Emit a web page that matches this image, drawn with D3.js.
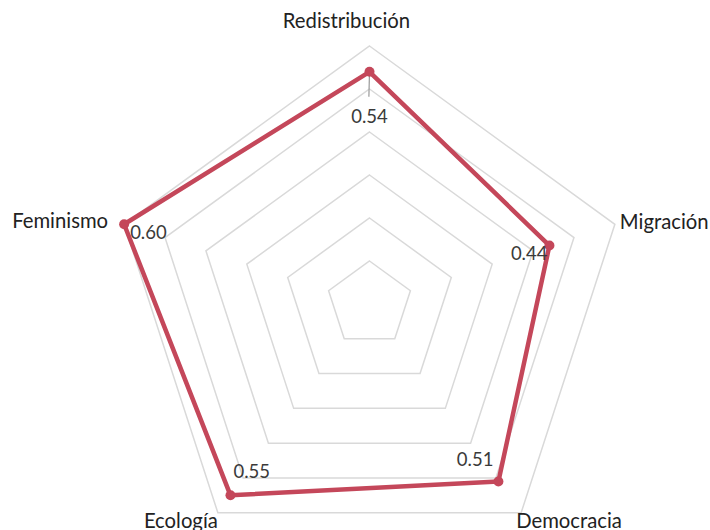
<!DOCTYPE html>
<html>
<head>
<meta charset="utf-8">
<script src="https://cdn.jsdelivr.net/npm/d3@7"></script>
<style>
  body { margin: 0; background: #fff; }
  text { font-family: Lato, "Noto Sans", sans-serif; }
</style>
</head>
<body>
<svg width="710" height="530"></svg>
<script>
// data
var axes = ["Redistribución", "Migración", "Democracia", "Ecología", "Feminismo"];
var values = [0.54, 0.44, 0.51, 0.55, 0.60];
var valueLabels = ["0.54", "0.44", "0.51", "0.55", "0.60"];
var gridLevels = [0.1, 0.2, 0.3, 0.4, 0.5, 0.6];

var svg = d3.select("svg"),
    cx = 369.5,
    cy = 304;

var r = d3.scaleLinear()
    .domain([0, 0.6])
    .range([0, 258]);

var angle = d3.scaleLinear()
    .domain([0, axes.length])
    .range([0, 2 * Math.PI]);

function pt(i, v) {
    var a = angle(i);
    return [cx + r(v) * Math.sin(a), cy - r(v) * Math.cos(a)];
}

// grid pentagons
svg.append("g")
    .selectAll("polygon")
    .data(gridLevels)
    .enter()
    .append("polygon")
    .attr("points", function(lv) {
        return axes.map(function(d, i) { return pt(i, lv).join(","); }).join(" ");
    })
    .attr("fill", "none")
    .attr("stroke", "#d9d9d9")
    .attr("stroke-width", 1.5);

// leader line for top label
var top0 = pt(0, values[0]);
svg.append("line")
    .attr("x1", top0[0])
    .attr("y1", top0[1])
    .attr("x2", top0[0] - 0.6)
    .attr("y2", top0[1] + 25)
    .attr("stroke", "#999")
    .attr("stroke-width", 1.2);

// data line
svg.append("path")
    .datum(values)
    .attr("d", d3.line()
        .x(function(d, i) { return pt(i, d)[0]; })
        .y(function(d, i) { return pt(i, d)[1]; })
        .curve(d3.curveLinearClosed))
    .attr("fill", "none")
    .attr("stroke", "#c4475a")
    .attr("stroke-width", 4.5)
    .attr("stroke-linejoin", "round");

svg.append("g")
    .selectAll("circle")
    .data(values)
    .enter()
    .append("circle")
    .attr("cx", function(d, i) { return pt(i, d)[0]; })
    .attr("cy", function(d, i) { return pt(i, d)[1]; })
    .attr("r", 5)
    .attr("fill", "#c4475a");

// value labels (offsets from each point)
var valOff = [[0, 51, "middle"], [-2, 14, "end"], [-5, -15, "end"], [3, -17, "start"], [6, 15, "start"]];
svg.append("g")
    .selectAll("text")
    .data(values)
    .enter()
    .append("text")
    .attr("x", function(d, i) { return pt(i, d)[0] + valOff[i][0]; })
    .attr("y", function(d, i) { return pt(i, d)[1] + valOff[i][1]; })
    .attr("text-anchor", function(d, i) { return valOff[i][2]; })
    .style("font-size", "18.5px")
    .style("fill", "#3a3a3a")
    .text(function(d, i) { return valueLabels[i]; });

// axis labels (offsets from outer vertex)
var axOff = [[-23, -18, "middle"], [5, 5, "start"], [-5, 15, "start"], [0, 15, "end"], [-16, 4, "end"]];
svg.append("g")
    .selectAll("text")
    .data(axes)
    .enter()
    .append("text")
    .attr("x", function(d, i) { return pt(i, 0.6)[0] + axOff[i][0]; })
    .attr("y", function(d, i) { return pt(i, 0.6)[1] + axOff[i][1]; })
    .attr("text-anchor", function(d, i) { return axOff[i][2]; })
    .style("font-size", "20.3px")
    .style("fill", "#222")
    .text(function(d) { return d; });
</script>
</body>
</html>
